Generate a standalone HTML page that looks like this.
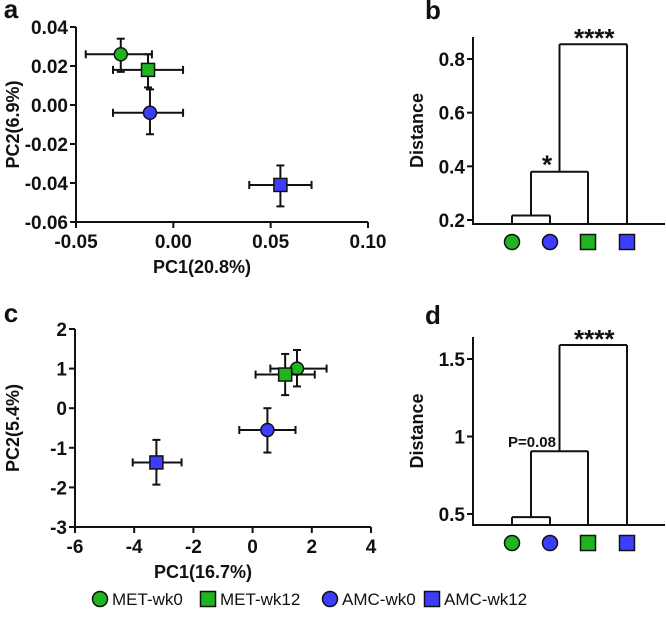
<!DOCTYPE html>
<html><head><meta charset="utf-8"><style>
body{margin:0;background:#fff;}
svg text{font-family:"Liberation Sans",Arial,sans-serif;font-weight:bold;fill:#111;}
</style></head><body>
<svg id="fig" width="666" height="618" xmlns="http://www.w3.org/2000/svg">
<g id="gA"></g>
<g id="gB"></g>
<g id="gC"></g>
<g id="gD"></g>
<g id="leg"></g>
</svg>
<script>
// Groups: MET-wk0, MET-wk12, AMC-wk0, AMC-wk12
const groups=["MET-wk0","MET-wk12","AMC-wk0","AMC-wk12"];
const colors=["#1fb51f","#1fb51f","#3d3dff","#3d3dff"];
const shapes=["circle","square","circle","square"];
// Panel a
const aX=[-0.027,-0.013,-0.012,0.055];
const aXlo=[-0.045,-0.031,-0.031,0.039];
const aXhi=[-0.011,0.005,0.005,0.071];
const aY=[0.026,0.018,-0.004,-0.041];
const aYlo=[0.017,0.009,-0.015,-0.052];
const aYhi=[0.034,0.026,0.008,-0.031];
const aXticks=["-0.05","0.00","0.05","0.10"];
const aYticks=["0.04","0.02","0.00","-0.02","-0.04","-0.06"];
// Panel c
const cX=[1.5,1.1,0.5,-3.25];
const cXlo=[0.6,0.1,-0.45,-4.05];
const cXhi=[2.5,2.1,1.45,-2.4];
const cY=[1.0,0.85,-0.55,-1.37];
const cYlo=[0.55,0.33,-1.12,-1.93];
const cYhi=[1.47,1.37,0.0,-0.8];
const cXticks=["-6","-4","-2","0","2","4"];
const cYticks=["2","1","0","-1","-2","-3"];
// Dendrogram heights (leaf order: MET-wk0, AMC-wk0, MET-wk12, AMC-wk12)
const bHeights=[0.217,0.38,0.855];
const bTicks=["0.2","0.4","0.6","0.8"];
const bLabels=["","*","****"];
const dHeights=[0.48,0.905,1.59];
const dTicks=["0.5","1","1.5"];
const dLabels=["","P=0.08","****"];
const leafOrder=[0,2,1,3];

const NS="http://www.w3.org/2000/svg";
function el(p,tag,at,txt){const e=document.createElementNS(NS,tag);for(const k in at)e.setAttribute(k,at[k]);if(txt!==undefined)e.textContent=txt;p.appendChild(e);return e;}
function line(p,x1,y1,x2,y2,name,w){const e=el(p,"line",{x1,y1,x2,y2,stroke:"#111","stroke-width":w||2});

return e;}
function marker(p,i,x,y,r,name){let e;
if(shapes[i]==="circle")e=el(p,"circle",{cx:x,cy:y,r:r,fill:colors[i],stroke:"#111","stroke-width":1.5});
else e=el(p,"rect",{x:x-r,y:y-r,width:2*r,height:2*r,fill:colors[i],stroke:"#111","stroke-width":1.5});

return e;}
function text(p,x,y,s,size,anchor,name,rot){const a={x,y,"font-size":size,"text-anchor":anchor||"middle"};if(rot)a.transform=rot;const e=el(p,"text",a,s);

return e;}

const TK=19, TT=18;
function scatter(g,letter,L,B,R,T,xmin,xmax,ymin,ymax,xt,yt,X,Xlo,Xhi,Y,Ylo,Yhi,xlab,ylab,letterY){
 const sx=v=>L+(v-xmin)/(xmax-xmin)*(R-L), sy=v=>B-(v-ymin)/(ymax-ymin)*(B-T);
 text(g,11,letterY,letter,26,"middle","panel-letter");
 line(g,L,T,L,B,"y-axis");line(g,L-1,B,R,B,"x-axis");
 yt.forEach(s=>{const y=sy(parseFloat(s));line(g,L-6,y,L,y,"y-tick");text(g,L-8,y+7,s,TK,"end","y-tick-label");});
 xt.forEach(s=>{const x=sx(parseFloat(s));line(g,x,B,x,B+6,"x-tick");text(g,x,B+26,s,TK,"middle","x-tick-label");});
 text(g,(L+R)/2-20,B+51,xlab,TT,"middle","x-axis-title");
 text(g,0,0,ylab,TT,"middle","y-axis-title","translate(19,"+((T+B)/2)+") rotate(-90)");
 for(let i=0;i<X.length;i++){
  const x=sx(X[i]),y=sy(Y[i]);
  line(g,sx(Xlo[i]),y,sx(Xhi[i]),y,"x-error-bar");
  line(g,sx(Xlo[i]),y-4,sx(Xlo[i]),y+4,"error-cap");line(g,sx(Xhi[i]),y-4,sx(Xhi[i]),y+4,"error-cap");
  line(g,x,sy(Ylo[i]),x,sy(Yhi[i]),"y-error-bar");
  line(g,x-4,sy(Ylo[i]),x+4,sy(Ylo[i]),"error-cap");line(g,x-4,sy(Yhi[i]),x+4,sy(Yhi[i]),"error-cap");
  marker(g,i,x,y,6.5,"point-"+groups[i].toLowerCase());
 }
}
scatter(document.getElementById("gA"),"a",76,222,368,27,-0.05,0.10,-0.06,0.04,aXticks,aYticks,aX,aXlo,aXhi,aY,aYlo,aYhi,"PC1(20.8%)","PC2(6.9%)",18);
scatter(document.getElementById("gC"),"c",75,527,371,329,-6,4,-3,2,cXticks,cYticks,cX,cXlo,cXhi,cY,cYlo,cYhi,"PC1(16.7%)","PC2(5.4%)",322);

function dendro(g,letter,L,B,y0v,y0p,y1v,y1p,ticks,H,labs,ytop,letterY){
 const sy=v=>y0p+(v-y0v)/(y1v-y0v)*(y1p-y0p);
 const leaves=[512,550,588,627];
 text(g,433,letterY,letter,26,"middle","panel-letter");
 line(g,L,ytop,L,B,"y-axis");line(g,L-1,B,665,B,"x-axis");
 ticks.forEach(s=>{const y=sy(parseFloat(s));line(g,L-6,y,L,y,"y-tick");text(g,L-8,y+7,s,TK,"end","y-tick-label");});
 text(g,0,0,"Distance",TT,"middle","y-axis-title","translate(423,"+((ytop+B)/2)+") rotate(-90)");
 const h0=sy(H[0]),h1=sy(H[1]),h2=sy(H[2]);
 const m0=(leaves[0]+leaves[1])/2,m1=(m0+leaves[2])/2;
 [[leaves[0],B,leaves[0],h0],[leaves[1],B,leaves[1],h0],[leaves[0],h0,leaves[1],h0],
  [m0,h0,m0,h1],[leaves[2],B,leaves[2],h1],[m0,h1,leaves[2],h1],
  [m1,h1,m1,h2],[leaves[3],B,leaves[3],h2],[m1,h2,leaves[3],h2]].forEach(s=>line(g,s[0],s[1],s[2],s[3],"dendrogram-branch"));
 if(labs[1]==="*") text(g,547,h1+2,"*",26,"middle","significance-label");
 else if(labs[1]) text(g,532,h1-4,labs[1],15,"middle","significance-label");
 text(g,(m1+leaves[3])/2+1,h2+3,labs[2],26,"middle","significance-label");
 leafOrder.forEach((gi,k)=>marker(g,gi,leaves[k],B+18,7.5,"leaf-"+groups[gi].toLowerCase()));
}
dendro(document.getElementById("gB"),"b",473,224,0.2,220,0.8,59,bTicks,bHeights,bLabels,37,19);
dendro(document.getElementById("gD"),"d",473,525,0.5,514,1.5,359,dTicks,dHeights,dLabels,337,324);

const lg=document.getElementById("leg");
const legX=[100,208,330,432];
groups.forEach((n,i)=>{marker(lg,i,legX[i],599,7.5,"legend-marker-"+n.toLowerCase());
 const t=text(lg,legX[i]+12,605,n,17,"start","legend-label-"+n.toLowerCase());t.style.fontWeight="normal";});
</script>
</body></html>
